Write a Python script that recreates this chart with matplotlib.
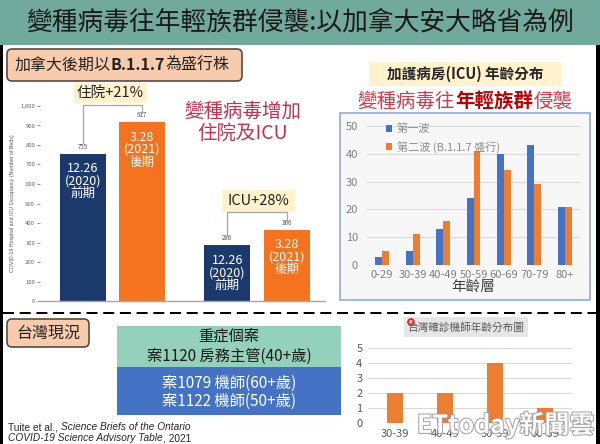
import matplotlib
matplotlib.use('Agg')
import matplotlib.pyplot as plt
from matplotlib.patches import Rectangle, FancyBboxPatch, Circle
import matplotlib.patheffects as pe

plt.rcParams['font.family'] = ['Noto Sans CJK TC', 'DejaVu Sans']

# ---------------- data ----------------
title = '變種病毒往年輕族群侵襲:以加拿大安大略省為例'
occ_groups = ['住院', 'ICU']
occ_early = [755, 286]
occ_late = [917, 366]
occ_pct = ['住院+21%', 'ICU+28%']
early_label = '12.26\n(2020)\n前期'
late_label = '3.28\n(2021)\n後期'
occ_yticks = list(range(0, 1001, 100))

age_groups = ['0-29', '30-39', '40-49', '50-59', '60-69', '70-79', '80+']
wave1 = [3, 5, 13, 24, 40, 43, 21]
wave2 = [5, 11, 16, 41, 34, 29, 21]
wave_names = ['第一波', '第二波 (B.1.1.7 盛行)']
icu_yticks = [0, 10, 20, 30, 40, 50]

tw_groups = ['30-39', '40-49', '50-59', '60-69']
tw_pilots = [2, 2, 4, 1]
tw_yticks = [0, 1, 2, 3, 4, 5]

NAVY = '#1b3a6b'
ORANGE = '#f5731f'
BLUE = '#4472c4'
ORG2 = '#ed7d31'

W, H = 600, 444
fig = plt.figure(figsize=(6, 4.44), dpi=100)
fig.patch.set_facecolor('white')


def px_axes(x0, y0, x1, y1):
    return fig.add_axes([x0 / W, 1 - y1 / H, (x1 - x0) / W, (y1 - y0) / H])


bg = fig.add_axes([0, 0, 1, 1])
bg.set_xlim(0, W)
bg.set_ylim(H, 0)
bg.axis('off')
bg.set_zorder(0)

# title bar
bg.add_patch(Rectangle((0, 0), 600, 45, fc='#72a99d', ec='none'))
bg.text(300, 23, title, ha='center', va='center', fontsize=18.5, color='#1a1a1a')
# side borders
bg.add_patch(Rectangle((0, 45), 3, 399, fc='black', ec='none'))
bg.add_patch(Rectangle((596, 45), 4, 399, fc='black', ec='none'))


def chain(x, y, parts, fontsize, color):
    texts = []
    s0, kw0 = parts[0]
    p0 = {'color': color, **kw0}
    t = bg.text(x, y, s0, fontsize=fontsize, va='center', ha='left', **p0)
    texts.append(t)
    for s, kw in parts[1:]:
        p = {'color': color, **kw}
        t = bg.annotate(s, xy=(1, 0), xycoords=texts[-1], va='bottom', ha='left',
                        fontsize=fontsize, **p)
        texts.append(t)
    return texts


# peach label top-left
bg.add_patch(FancyBboxPatch((7, 49), 235, 32, boxstyle='round,pad=0,rounding_size=5',
                            fc='#f8cbad', ec='#5a4a42', lw=1.2))
chain(15, 65, [('加拿大後期以', {}), ('B.1.1.7', {'weight': 'bold'}), ('為盛行株', {})],
      11.5, '#222222')

# percent labels boxes
bg.add_patch(Rectangle((74, 83), 73, 20, fc='#fff2cc', ec='none'))
bg.text(110.5, 93, occ_pct[0], ha='center', va='center', fontsize=10.5, color='#222222')
bg.add_patch(Rectangle((222, 190), 73, 22, fc='#fff2cc', ec='none'))
bg.text(258.5, 201, occ_pct[1], ha='center', va='center', fontsize=10.5, color='#222222')

bg.text(243, 122, '變種病毒增加\n住院及ICU', ha='center', va='center', fontsize=14,
        color='#c8304e', linespacing=1.08)

# ---------------- left chart ----------------
ax1 = px_axes(40, 106, 325, 301)
ax1.set_zorder(2)
ax1.patch.set_alpha(0)
xs = [0, 1]
off = 0.205
bw = 0.32
b1 = ax1.bar([x - off for x in xs], occ_early, width=bw, color=NAVY)
b2 = ax1.bar([x + off for x in xs], occ_late, width=bw, color=ORANGE)
ax1.set_xlim(-0.5, 1.47)
ax1.set_ylim(0, 1000)
ax1.set_yticks(occ_yticks)
ax1.set_yticklabels([f'{v:,}' for v in occ_yticks])
ax1.tick_params(axis='y', labelsize=4.3, colors='#666666', length=2, width=0.5, pad=1.5)
ax1.set_xticks([])
for s in ['top', 'right', 'left']:
    ax1.spines[s].set_visible(False)
ax1.spines['bottom'].set_color('#a6a6a6')
ax1.spines['bottom'].set_linewidth(1.0)
ax1.set_ylabel('COVID-19 Hospital and ICU Occupancy (Number of Beds)', fontsize=3.8,
               color='#555555', family=['Liberation Sans'])
ax1.yaxis.set_label_coords(-0.088, 0.5)
for bars, vals, lab in [(b1, occ_early, early_label), (b2, occ_late, late_label)]:
    for r, v in zip(bars, vals):
        cx = r.get_x() + r.get_width() / 2
        ax1.annotate(str(v), xy=(cx, v), xytext=(0, 2), textcoords='offset points',
                     ha='center', va='bottom', fontsize=4.5, color='#555555')
        ax1.annotate(lab, xy=(cx, v), xytext=(0, -6), textcoords='offset points',
                     ha='center', va='top', fontsize=9, color='white', linespacing=0.95)
# brackets
for i in range(2):
    xl = xs[i] - off
    xr = xs[i] + off
    top = max(occ_early[i], occ_late[i]) + (88 if i == 0 else 90)
    ax1.plot([xl, xl, xr, xr], [occ_early[i] + 55, top, top, occ_late[i] + 48],
             color='#a6a6a6', lw=0.9, clip_on=False)

# ---------------- right chart ----------------
bg.add_patch(Rectangle((369, 62), 192, 24, fc='#fff2cc', ec='none'))
bg.text(465, 74, '加護病房(ICU) 年齡分布', ha='center', va='center', fontsize=10.5,
        weight='bold', color='#262626')
red_parts = chain(357, 101, [('變種病毒往', {}), ('年輕族群', {'weight': 'bold', 'color': '#c00000'}),
                             ('侵襲', {})], 14, '#d33a4a')
bg.add_patch(Rectangle((340, 113), 250, 187, fc='#f7f7f7', ec='#8faadc', lw=1.2))

ax2 = px_axes(367, 126, 580, 265)
ax2.set_zorder(2)
ax2.patch.set_alpha(0)
idx = list(range(len(age_groups)))
bw2 = 0.23
ax2.bar([i - bw2 / 2 for i in idx], wave1, width=bw2, color=BLUE, label=wave_names[0], zorder=3)
ax2.bar([i + bw2 / 2 for i in idx], wave2, width=bw2, color=ORG2, label=wave_names[1], zorder=3)
ax2.set_xlim(-0.5, 6.5)
ax2.set_ylim(0, 50)
ax2.set_yticks(icu_yticks)
ax2.set_xticks(idx)
ax2.set_xticklabels(age_groups)
ax2.tick_params(axis='both', labelsize=8, colors='#7f7f7f', length=0)
ax2.tick_params(axis='y', pad=6.5)
ax2.tick_params(axis='x', pad=3.5)
ax2.grid(axis='y', color='#d9d9d9', lw=0.8, zorder=0)
ax2.set_axisbelow(True)
for s in ax2.spines.values():
    s.set_visible(False)
ax2.set_xlabel('年齡層', fontsize=10.5, color='#404040', labelpad=0)
ax2.legend(loc='upper left', bbox_to_anchor=(0.04, 1.09), handlelength=0.6, handleheight=0.6,
           handletextpad=0.4, labelspacing=0.6, frameon=False, fontsize=8, labelcolor='#8c8c8c')

# ---------------- bottom section ----------------
ln, = bg.plot([3, 597], [313, 313], color='black', lw=1.44)
ln.set_dashes((5.5, 2.85))

bg.add_patch(FancyBboxPatch((7, 319), 82, 28, boxstyle='round,pad=0,rounding_size=5',
                            fc='#f8cbad', ec='#5a4a42', lw=1.2))
bg.text(48, 333, '台灣現況', ha='center', va='center', fontsize=11.5, color='#222222')

bg.add_patch(Rectangle((117, 326), 224, 41, fc='#93d1bd', ec='none'))
bg.add_patch(Rectangle((117, 367), 224, 48, fc=BLUE, ec='none'))
bg.text(229, 336, '重症個案', ha='center', va='center', fontsize=11, color='#1a1a1a')
bg.text(229, 356, '案1120 房務主管(40+歲)', ha='center', va='center', fontsize=11, color='#1a1a1a')
bg.text(229, 383, '案1079 機師(60+歲)', ha='center', va='center', fontsize=11, color='white')
bg.text(229, 401, '案1122 機師(50+歲)', ha='center', va='center', fontsize=11, color='white')

c1 = chain(8, 427, [('Tuite et al., ', {}), ('Science Briefs of the Ontario', {'style': 'italic'})],
           7.3, '#262626')
c2 = chain(8, 438, [('COVID-19 Science Advisory Table', {'style': 'italic'}), (', 2021', {})],
           7.3, '#262626')
for t in c1 + c2:
    t.set_family(['Liberation Sans'])

bg.add_patch(Rectangle((404, 317), 124, 20, fc='#e7e6e6', ec='none'))
bg.text(466, 327.5, '台灣確診機師年齡分布圖', ha='center', va='center', fontsize=7.7, color='#595959')
bg.add_patch(Circle((411, 322), 3, fc='#f7a8b0', ec='#e02020', lw=1.2))

ax3 = px_axes(368, 348, 572, 423)
ax3.set_zorder(2)
ax3.patch.set_alpha(0)
tx = list(range(len(tw_groups)))
ax3.bar(tx, tw_pilots, width=0.31, color=ORG2, zorder=3)
ax3.set_xlim(-0.54, 3.54)
ax3.set_ylim(0, 5)
ax3.set_yticks(tw_yticks)
ax3.set_xticks(tx)
ax3.set_xticklabels(tw_groups)
ax3.tick_params(axis='both', labelsize=8, colors='#595959', length=0)
ax3.tick_params(axis='y', pad=4)
ax3.tick_params(axis='x', pad=4.5)
ax3.grid(axis='y', color='#d9d9d9', lw=0.8, zorder=0)
ax3.set_axisbelow(True)
for s in ax3.spines.values():
    s.set_visible(False)

fig.text(417 / W, 1 - 433 / H, 'ETtoday新聞雲', fontsize=18, weight='bold', color='white',
         ha='left', va='baseline', zorder=10, alpha=0.92,
         path_effects=[pe.withStroke(linewidth=1.4, foreground='#9a9a9a')])

# center the red mixed-weight line
fig.canvas.draw()
r = fig.canvas.get_renderer()
bb0 = red_parts[0].get_window_extent(r)
bbn = red_parts[-1].get_window_extent(r)
width = bbn.x1 - bb0.x0
red_parts[0].set_x(465 - width / 2)

fig.savefig('out.png', dpi=100)
